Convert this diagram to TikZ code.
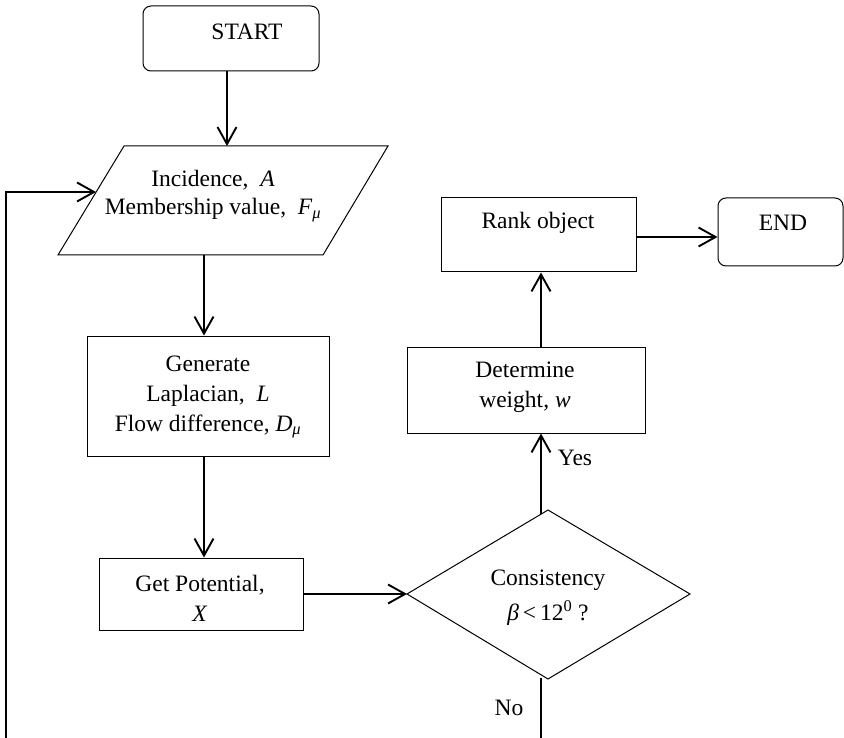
\documentclass[tikz,border=0pt]{standalone}
\usepackage{fontspec}
\setmainfont{Liberation Serif}
\usetikzlibrary{arrows.meta,calc}
\begin{document}
\begin{tikzpicture}[x=1pt,y=-1pt,
  box/.style={draw,line width=1pt,minimum width=#1,inner sep=0pt},
  txt/.style={font=\fontsize{23.5}{30}\selectfont,align=center,inner sep=0pt},
  arr/.style={line width=1.9pt,-{Straight Barb[length=17pt,width=19pt,line width=1.9pt]}},
  thin/.style={line width=1.1pt}]
\useasboundingbox (0,0) rectangle (844,738);
% boxes
\node[draw,line width=1pt,rounded corners=8pt,minimum width=176pt,minimum height=65pt] (start) at (231,38.5) {};
\node[txt] (starttxt) at (247,32) {START};
\coordinate (p1) at (124,146); \coordinate (p2) at (388,146);
\coordinate (p3) at (323,255); \coordinate (p4) at (58,255);
\draw[line width=1pt] (p1) -- (p2) -- (p3) -- (p4) -- cycle;
\node[txt,font=\fontsize{23.5}{28}\selectfont] (inptxt) at (213,196) {Incidence,\ \ \textit{A}\\Membership value,\ \ \textit{F}\textsubscript{\textit{μ}}};
\node[box=242pt,minimum height=120pt] (gen) at (208,396) {};
\node[txt] (gentxt) at (208,397) {Generate\\ Laplacian,\ \ \textit{L}\\Flow difference, \textit{D}\textsubscript{\textit{μ}}};
\node[box=204pt,minimum height=72pt] (pot) at (201,594) {};
\node[txt] (pottxt) at (200,598) {Get Potential,\\\textit{X}};
\coordinate (dT) at (548,510); \coordinate (dR) at (690,594);
\coordinate (dB) at (548,679); \coordinate (dL) at (407,594);
\draw[line width=1pt] (dT) -- (dR) -- (dB) -- (dL) -- cycle;
\node[txt,font=\fontsize{23.5}{35}\selectfont] (dtxt) at (548,598) {Consistency\\\textit{β}\,<\,12\textsuperscript{0} ?};
\node[box=238pt,minimum height=86pt] (det) at (526,390) {};
\node[txt] (dettxt) at (525,387) {Determine\\weight, \textit{w}};
\node[box=195pt,minimum height=74pt] (rank) at (538.5,235) {};
\node[txt] (ranktxt) at (538,223) {Rank object};
\node[draw,line width=1pt,rounded corners=8pt,minimum width=125pt,minimum height=68pt] (endn) at (780.5,232) {};
\node[txt] (endtxt) at (783,223) {END};
% connectors
\coordinate (pin) at (227,146);
\coordinate (pout) at (204,255);
\coordinate (yesS) at (541,514);
\coordinate (noS) at (541,678);
\coordinate (noE) at (541,738);
\coordinate (loopB) at (6,738);
\coordinate (loopC) at (6,192);
\coordinate (loopIn) at (96,192);
\draw[arr] (start.south -| pin) -- (pin);
\draw[arr] (pout) -- (gen.north -| pout);
\draw[arr] (gen.south -| pout) -- (pot.north -| pout);
\draw[arr] (pot.east) -- (dL);
\draw[arr] (yesS) -- (yesS |- det.south);
\draw[arr] (det.north -| yesS) -- (rank.south -| yesS);
\draw[arr] (rank.east |- 0,237) -- (endn.west |- 0,237);
\draw[thin] (noS) -- (noE);
\draw[line width=1.3pt,-{Straight Barb[length=17pt,width=19pt,line width=1.9pt]}] (loopB) -- (loopC) -- (loopIn);
\node[txt] (yes) at (575,458) {Yes};
\node[txt] (no) at (509,708) {No};
\end{tikzpicture}
\end{document}
